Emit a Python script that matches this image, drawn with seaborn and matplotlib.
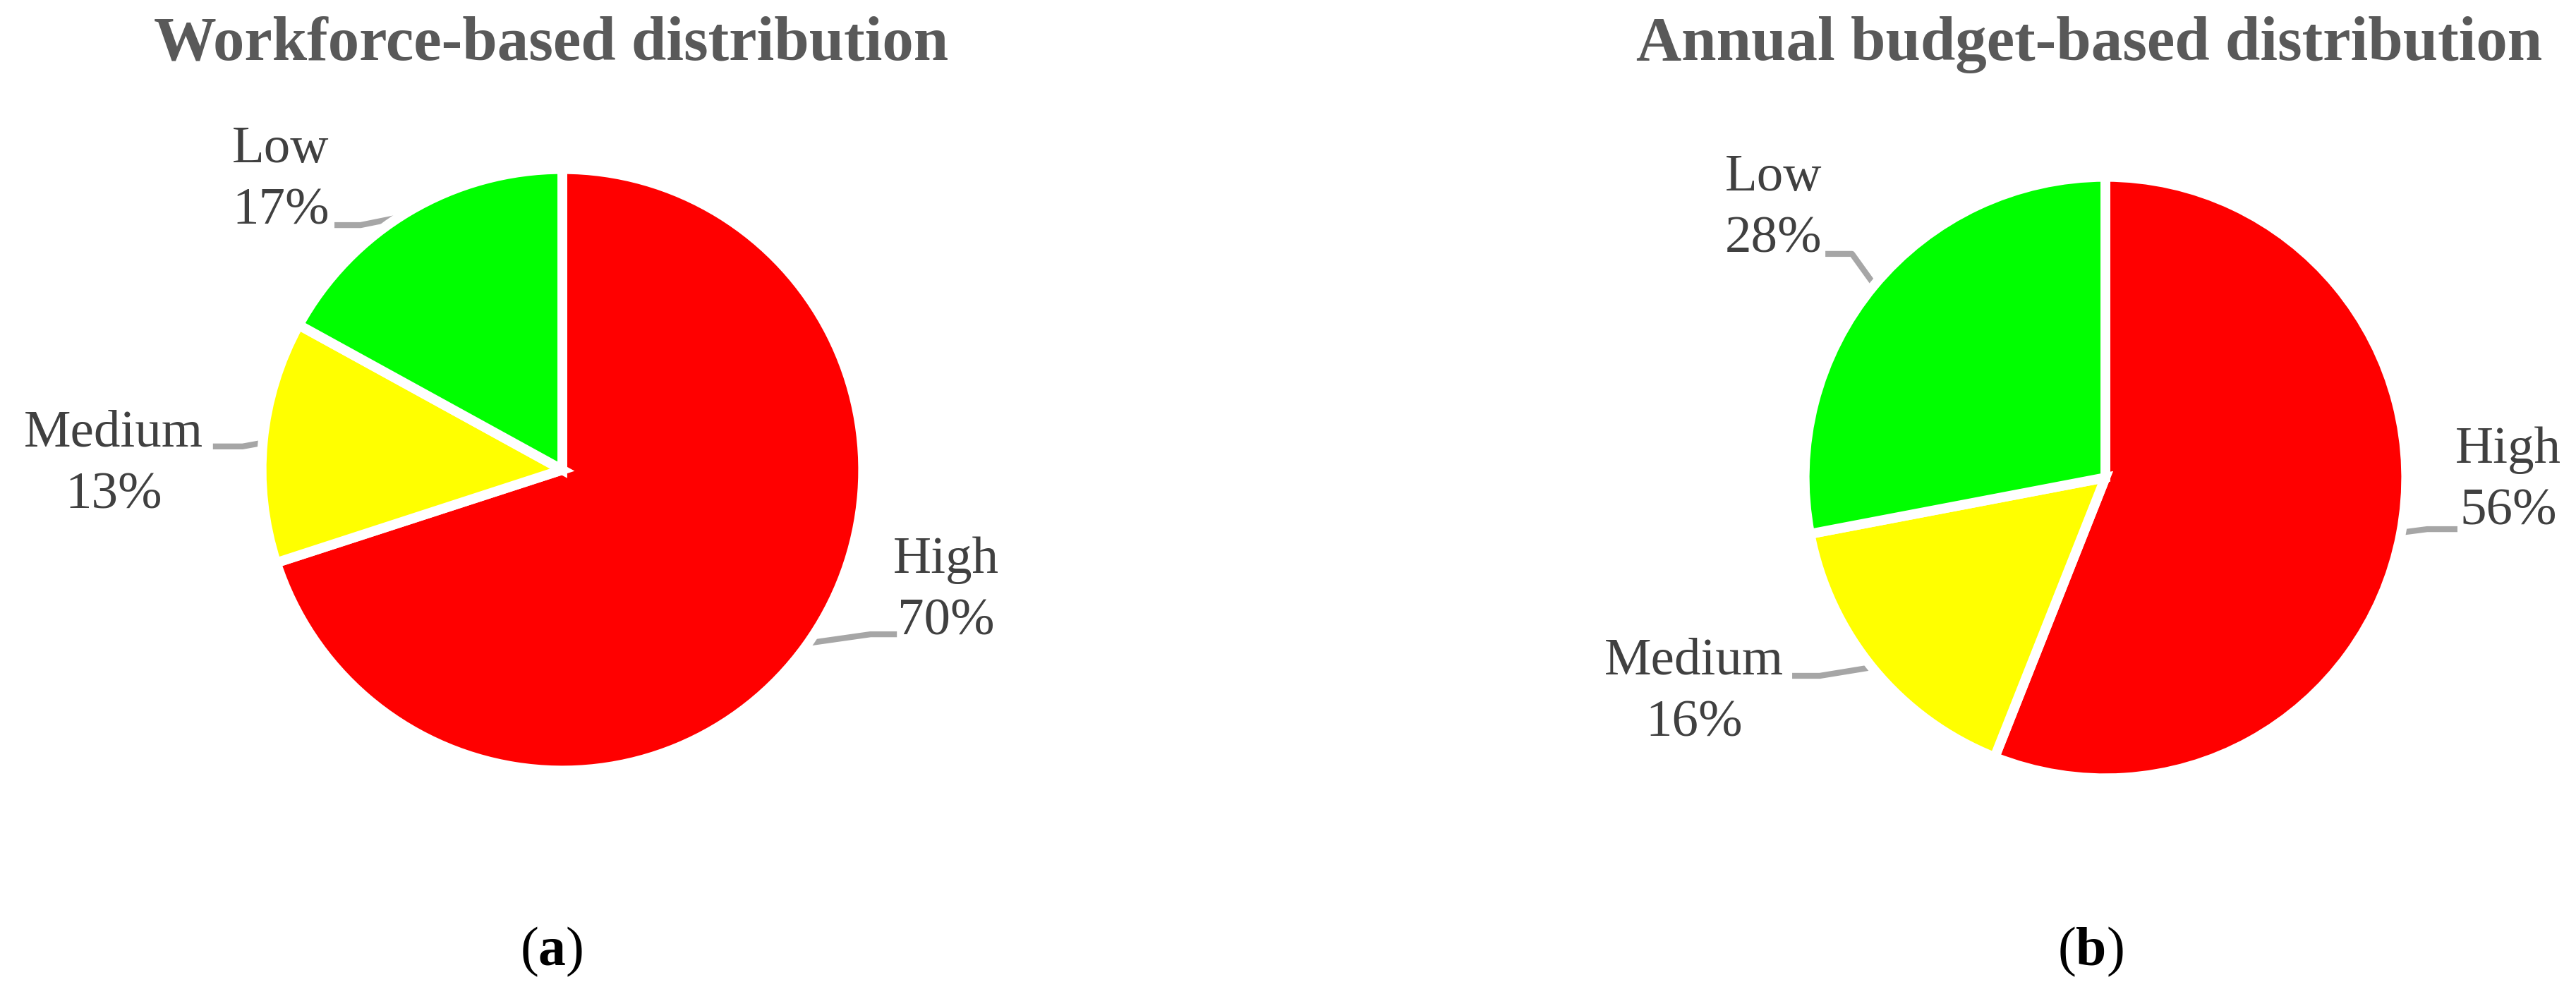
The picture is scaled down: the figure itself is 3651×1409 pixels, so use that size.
# two pie charts: workforce vs annual budget distribution
import numpy as np
import matplotlib.pyplot as plt
import seaborn as sns

categories = ['High', 'Medium', 'Low']
workforce_share = [70, 13, 17]
budget_share = [56, 16, 28]
titles = ['Workforce-based distribution', 'Annual budget-based distribution']
panel_tags = ['a', 'b']
slice_colors = ['#FF0000', '#FFFF00', '#00FF00']

sns.set_theme(style='white')
plt.rcParams['font.family'] = ['Liberation Serif', 'DejaVu Serif']
plt.rcParams['mathtext.fontset'] = 'custom'
plt.rcParams['mathtext.rm'] = 'Liberation Serif'
plt.rcParams['mathtext.bf'] = 'Liberation Serif:bold'

W, H, DPI = 3651, 1409, 200
R = 420  # pixels per pie radius

# layout per panel (pixels for the canvas, radius units for labels / leaders)
layouts = [
    dict(center=(797, 666), span=(0, 1825), title_x=781, tag_x=782,
         text=[(1.295, -0.41), (-1.514, 0.017), (-0.95, 0.976)],
         elbow=[(1.040, -0.555), (-1.079, 0.079), (-0.681, 0.826)],
         end=[(1.129, -0.555), (-1.179, 0.079), (-0.769, 0.826)]),
    dict(center=(2984, 677), span=(1825, 3651), title_x=2961, tag_x=2963,
         text=[(1.36, -0.012), (-1.388, -0.726), (-1.121, 0.907)],
         elbow=[(1.086, -0.174), (-0.964, -0.669), (-0.855, 0.755)],
         end=[(1.188, -0.174), (-1.057, -0.669), (-0.945, 0.755)]),
]

fig = plt.figure(figsize=(W / DPI, H / DPI), dpi=DPI)

for vals, lay, title, tag in zip([workforce_share, budget_share], layouts, titles, panel_tags):
    cx, cy = lay['center']
    x0, x1 = lay['span']
    ax = fig.add_axes([x0 / W, 0, (x1 - x0) / W, 1])
    wedges, _ = ax.pie(vals, colors=slice_colors, startangle=90, counterclock=False,
                       radius=1.015, wedgeprops=dict(edgecolor='white', linewidth=5))
    ax.set_xlim((x0 - cx) / R, (x1 - cx) / R)
    ax.set_ylim((cy - H) / R, cy / R)
    ax.axis('off')

    for w, cat, v, txt, elb, end in zip(wedges, categories, vals,
                                        lay['text'], lay['elbow'], lay['end']):
        mid = np.deg2rad((w.theta1 + w.theta2) / 2)
        ax_, ay_ = np.cos(mid), np.sin(mid)
        ax.plot([ax_, elb[0], end[0]], [ay_, elb[1], end[1]], color='#A6A6A6',
                lw=3, solid_capstyle='butt', zorder=0)
        ax.text(txt[0], txt[1], f'{cat}\n{v}%', ha='center', va='center',
                fontsize=27, color='#404040', linespacing=1.4)

    fig.text(lay['title_x'] / W, 1 - 85 / H, title, ha='center', va='baseline',
             fontsize=32, fontweight='bold', color='#595959')
    fig.text(lay['tag_x'] / W, 1 - 1368 / H, '(' + r'$\mathbf{' + tag + '}$' + ')',
             ha='center', va='baseline', fontsize=28, color='black')

fig.savefig('out.png', dpi=DPI, facecolor='white')
